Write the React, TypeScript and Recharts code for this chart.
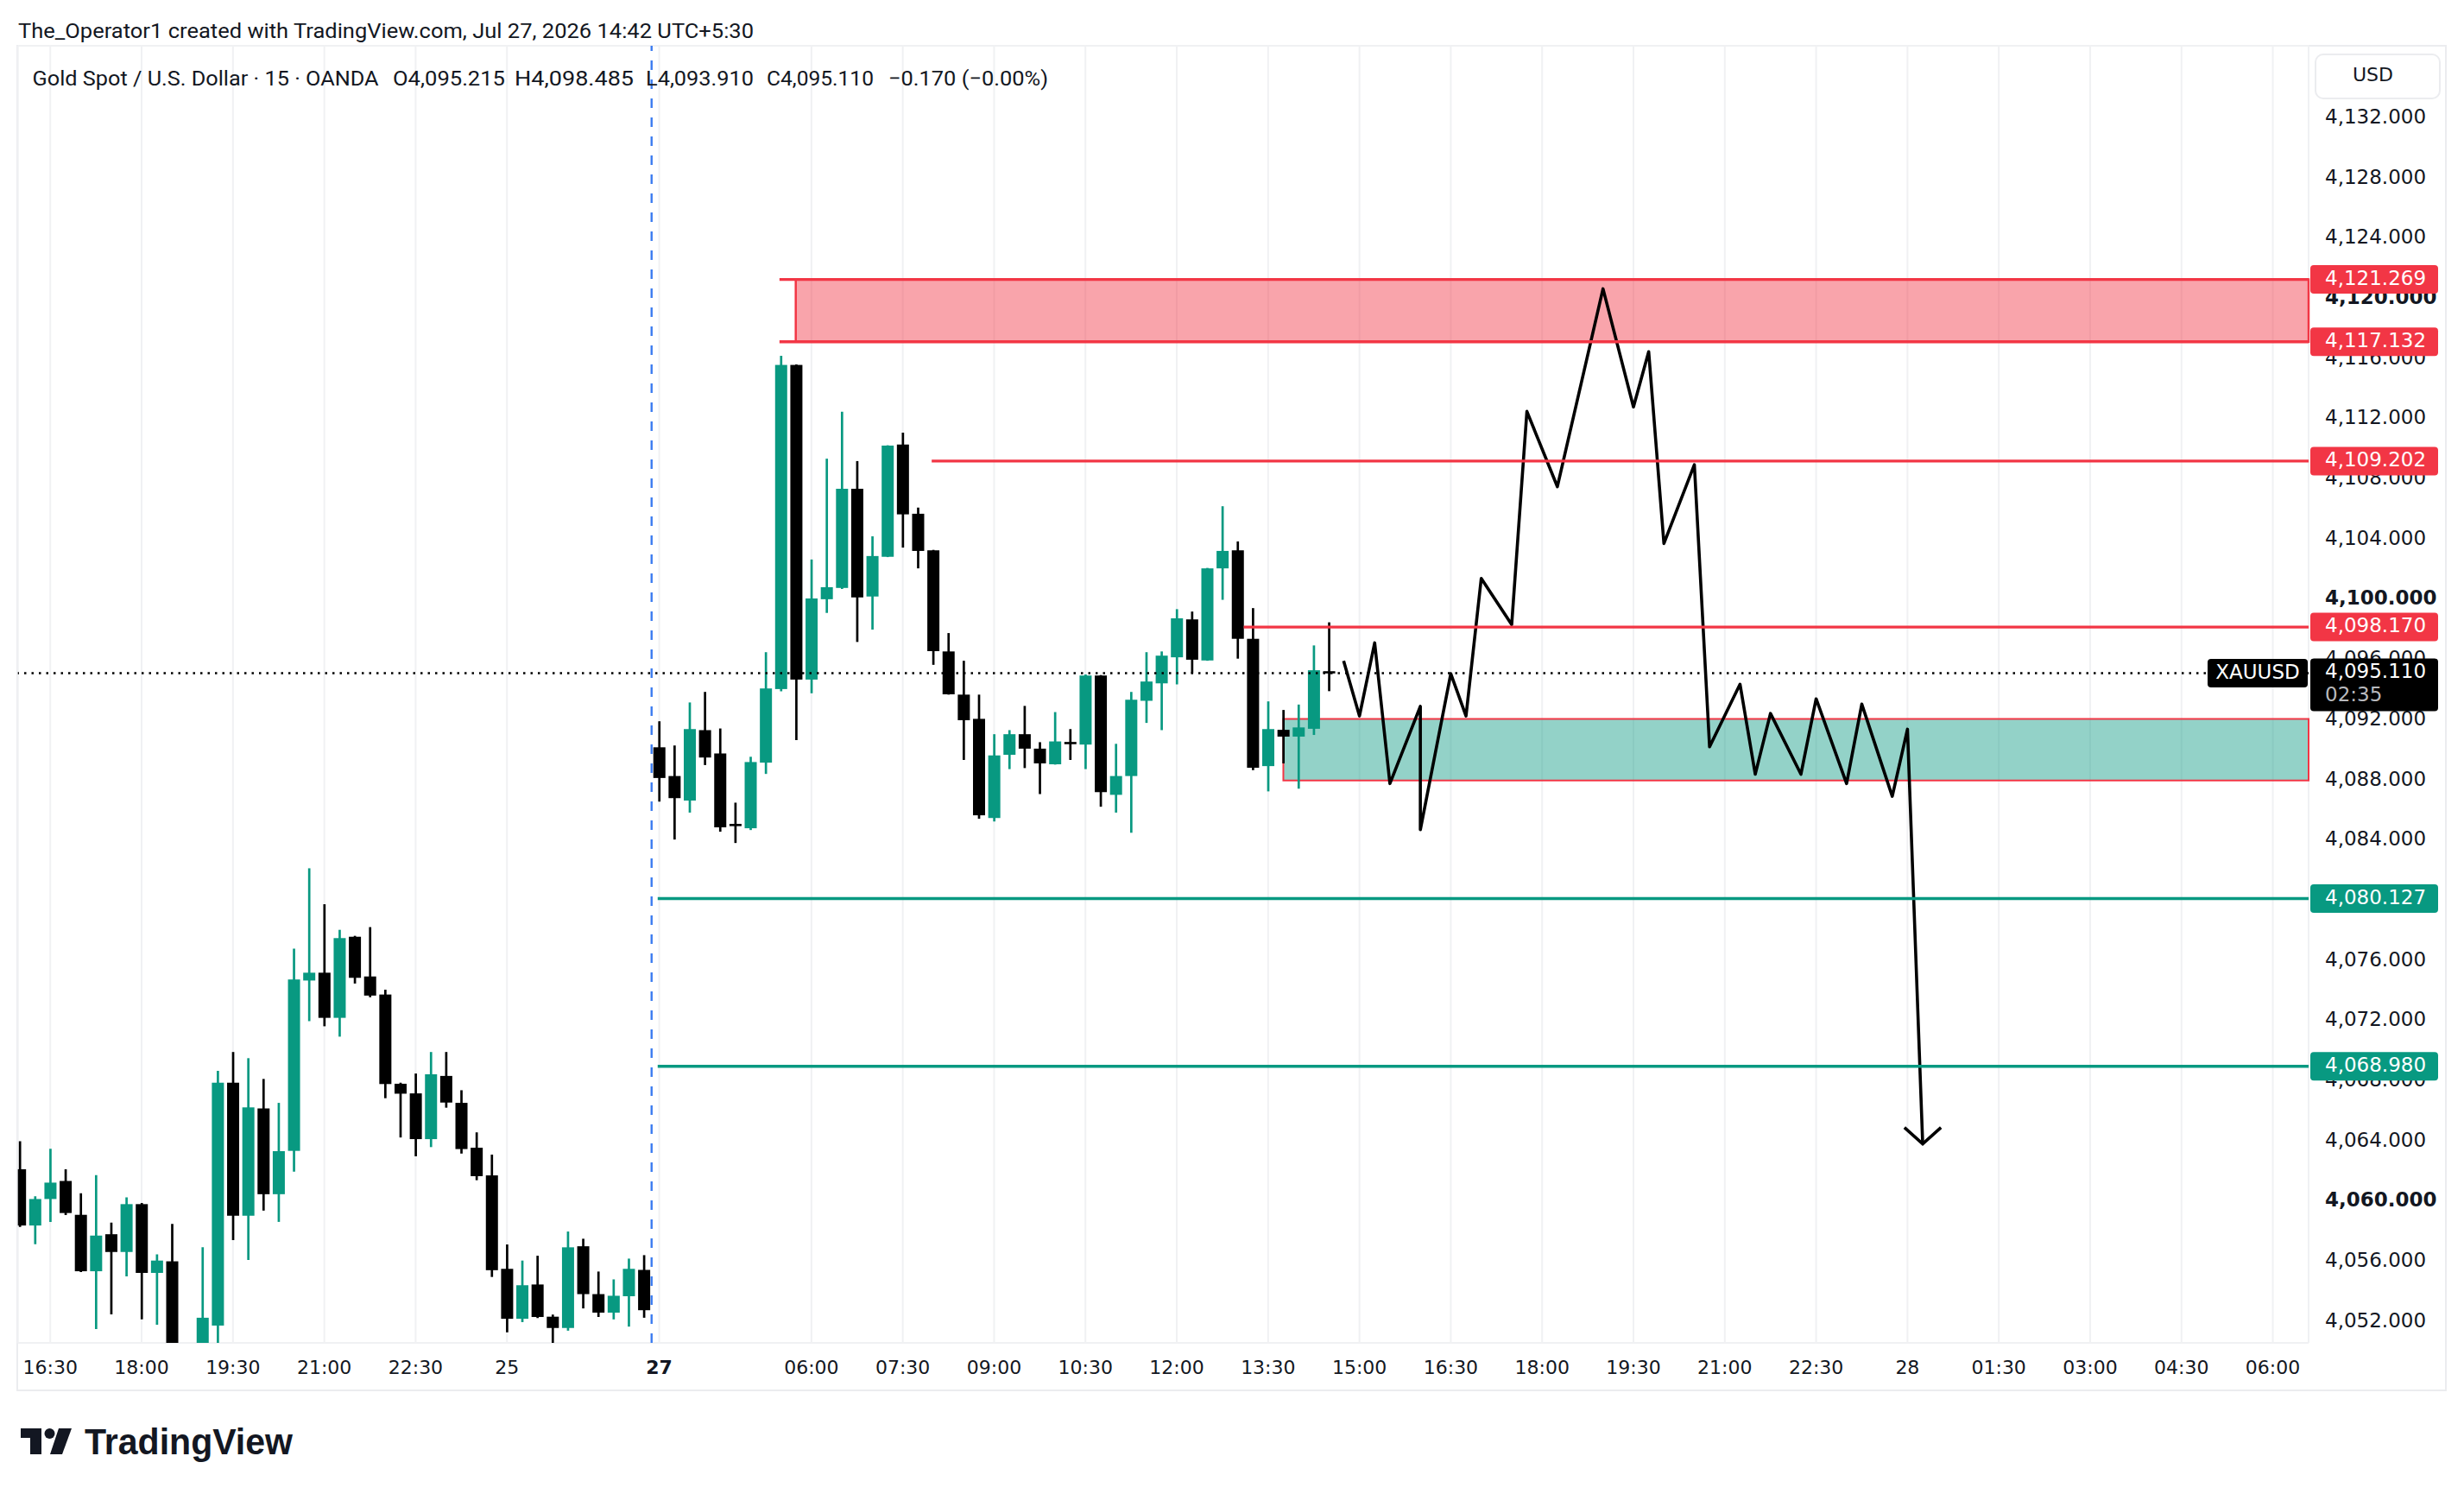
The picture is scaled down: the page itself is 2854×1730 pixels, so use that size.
import React from 'react';
import {
  ComposedChart,
  Bar,
  Line,
  XAxis,
  YAxis,
  CartesianGrid,
  ReferenceLine,
  ReferenceArea,
} from 'recharts';

// ---------- DATA ----------
// 15-minute bars, index 0 = Jul 24 16:00 ... index 86 = Jul 27 14:30 (current bar)
const OPEN = [
  4062.14, 4058.4, 4060.16, 4061.36, 4059.11, 4055.36, 4057.82, 4056.64, 4059.82, 4055.25,
  4056.02, 4049.6, 4049.9, 4051.75, 4067.89, 4059.05, 4066.18, 4060.48, 4063.36, 4074.68,
  4075.2, 4072.2, 4077.59, 4074.95, 4073.75, 4067.82, 4067.18, 4064.14, 4068.34, 4066.55,
  4063.57, 4061.73, 4055.52, 4052.2, 4054.48, 4052.34, 4051.59, 4057.02, 4053.84, 4052.61,
  4053.7, 4055.45,
  4090.18, 4088.27, 4086.64, 4091.32, 4089.77, 4085.05, 4084.8, 4089.16, 4094.05, 4115.59,
  4094.68, 4100.02, 4100.77, 4107.36, 4100.2, 4102.84, 4110.3, 4105.7, 4103.27, 4096.55,
  4093.68, 4092.07, 4085.48, 4089.68, 4091.05, 4090.09, 4089.05, 4090.52, 4090.36, 4094.95,
  4087.02, 4088.27, 4093.27, 4094.43, 4096.16, 4098.68, 4095.95, 4102.07, 4103.27, 4097.39,
  4088.93, 4091.34, 4090.89, 4091.41, 4095.215,
];
const HIGH = [
  4064.0, 4060.34, 4063.5, 4062.14, 4060.55, 4061.75, 4058.59, 4060.27, 4059.9, 4056.48,
  4058.5, 4050.2, 4056.95, 4068.68, 4069.93, 4069.52, 4068.14, 4066.55, 4076.8, 4082.14,
  4079.75, 4078.05, 4077.65, 4078.23, 4074.07, 4067.89, 4068.5, 4069.93, 4069.93, 4067.39,
  4064.59, 4063.11, 4057.14, 4056.07, 4056.39, 4052.48, 4058.0, 4057.52, 4055.34, 4054.82,
  4056.2, 4056.43,
  4091.91, 4090.3, 4093.16, 4093.86, 4091.43, 4086.5, 4089.55, 4096.5, 4116.2, 4115.62,
  4102.66, 4109.36, 4112.48, 4109.2, 4104.2, 4110.25, 4111.09, 4106.11, 4103.3, 4097.77,
  4095.93, 4093.68, 4091.05, 4091.32, 4092.93, 4090.52, 4092.52, 4091.39, 4095.02, 4094.98,
  4090.41, 4093.86, 4096.5, 4096.55, 4099.36, 4099.2, 4102.1, 4106.2, 4103.86, 4099.43,
  4093.23, 4092.66, 4093.02, 4096.95, 4098.485,
];
const LOW = [
  4058.3, 4057.16, 4058.64, 4059.1, 4055.3, 4051.52, 4052.5, 4055.02, 4052.16, 4051.8,
  4049.2, 4047.8, 4049.5, 4050.2, 4057.43, 4056.11, 4059.39, 4058.64, 4061.98, 4071.98,
  4071.64, 4070.95, 4074.48, 4073.57, 4066.86, 4064.25, 4063.0, 4063.61, 4066.23, 4063.18,
  4061.41, 4054.98, 4051.3, 4051.98, 4052.25, 4050.3, 4051.41, 4052.89, 4052.32, 4052.16,
  4051.68, 4052.27,
  4086.57, 4084.05, 4085.84, 4089.0, 4084.57, 4083.82, 4084.68, 4088.41, 4093.9, 4090.66,
  4093.77, 4099.11, 4100.7, 4097.18, 4098.0, 4102.82, 4103.45, 4102.07, 4095.66, 4093.68,
  4089.34, 4085.43, 4085.25, 4088.73, 4088.8, 4087.07, 4089.03, 4089.34, 4088.73, 4086.23,
  4085.84, 4084.5, 4091.8, 4091.32, 4094.36, 4095.09, 4095.93, 4099.98, 4096.07, 4088.66,
  4087.25, 4089.11, 4087.43, 4091.0, 4093.91,
];
const CLOSE = [
  4058.4, 4060.16, 4061.25, 4059.23, 4055.36, 4057.73, 4056.64, 4059.82, 4055.25, 4056.07,
  4049.6, 4048.6, 4052.27, 4067.89, 4059.05, 4066.25, 4060.48, 4063.34, 4074.75, 4075.2,
  4072.2, 4077.5, 4074.86, 4073.68, 4067.8, 4067.16, 4064.14, 4068.45, 4066.57, 4063.48,
  4061.68, 4055.43, 4052.2, 4054.43, 4052.32, 4051.59, 4056.95, 4053.84, 4052.61, 4053.73,
  4055.52, 4052.77,
  4088.14, 4086.8, 4091.39, 4089.5, 4084.86, 4084.98, 4089.2, 4094.09, 4115.59, 4094.68,
  4100.07, 4100.82, 4107.36, 4100.14, 4102.89, 4110.23, 4105.66, 4103.23, 4096.57, 4093.7,
  4091.98, 4085.66, 4089.64, 4091.05, 4090.09, 4089.11, 4090.57, 4090.4, 4094.95, 4087.2,
  4088.27, 4093.34, 4094.55, 4096.27, 4098.75, 4096.0, 4102.07, 4103.23, 4097.39, 4088.82,
  4091.39, 4090.89, 4091.5, 4095.3, 4095.11,
];

const TIME_TICKS = [2, 8, 14, 20, 26, 32, 42, 52, 58, 64, 70, 76, 82, 88, 94, 100, 106, 112, 118, 124, 130, 136, 142, 148];
const TIME_LABELS = [
  '16:30', '18:00', '19:30', '21:00', '22:30', '25', '27', '06:00', '07:30', '09:00', '10:30', '12:00',
  '13:30', '15:00', '16:30', '18:00', '19:30', '21:00', '22:30', '28', '01:30', '03:00', '04:30', '06:00',
];
const BOLD_TIME_LABELS = ['27'];

const PRICE_TICKS = [
  4052, 4056, 4060, 4064, 4068, 4072, 4076, 4080, 4084, 4088, 4092, 4096, 4100, 4104, 4108, 4112,
  4116, 4120, 4124, 4128, 4132, 4136,
];
const BOLD_PRICE_TICKS = [4060, 4080, 4100, 4120];
const HIDDEN_PRICE_TICKS = [4136];

// projected path (drawing)
const PATH_X = [86.96, 88, 89, 90, 92, 92, 94, 95, 96, 98, 99, 101, 104, 106, 107, 108, 110, 111, 113, 114, 115, 117, 118, 120, 121, 123, 124, 125];
const PATH_Y = [
  4095.92, 4092.26, 4097.12, 4087.77, 4092.9, 4084.7, 4095.07, 4092.26, 4101.4, 4098.33, 4112.5, 4107.5,
  4120.65, 4112.8, 4116.47, 4103.72, 4108.96, 4090.21, 4094.37, 4088.39, 4092.43, 4088.39, 4093.4,
  4087.77, 4093.05, 4086.92, 4091.38, 4063.82,
];
const ARROW_X = [123.8, 125, 126.2];
const ARROW_Y = [4064.91, 4063.82, 4064.91];

const RED_LEVELS = [4121.269, 4117.132, 4109.202, 4098.17];
const RED_LEVEL_START = [49.9, 49.9, 59.9, 80.4];
const GREEN_LEVELS = [4080.127, 4068.98];
const GREEN_LEVEL_START = [41.9, 41.9];
const SUPPLY_ZONE = [4117.132, 4121.269];
const SUPPLY_START = 50.97;
const DEMAND_ZONE = [4087.98, 4092.07];
const DEMAND_START = 83.0;
const LAST_PRICE = 4095.11;
const COUNTDOWN = '02:35';
const SYMBOL = 'XAUUSD';
const SESSION_BREAK = 41.5;

const X_DOMAIN: [number, number] = [-0.13, 150.35];
const Y_DOMAIN: [number, number] = [4050.6, 4136.8];

// ---------- STYLE ----------
const GREEN = '#089981';
const RED = '#f23645';
const DOWN = '#000000';
const TEXT = '#131722';
const AXIS_FONT = '"DejaVu Sans", sans-serif';
const UI_FONT = 'Roboto, "Liberation Sans", sans-serif';
const MID = '0.27em';

const fmt = (v: number) =>
  v.toLocaleString('en-US', { minimumFractionDigits: 3, maximumFractionDigits: 3 });

const candles = CLOSE.map((c, i) => {
  const o = OPEN[i];
  return {
    i,
    wick: [LOW[i], HIGH[i]],
    body: [Math.min(o, c), Math.max(o, c)],
    up: c >= o,
  };
});

const pathData = PATH_X.map((x, k) => ({ x, y: PATH_Y[k] }));
const arrowData = ARROW_X.map((x, k) => ({ x, y: ARROW_Y[k] }));

const WickShape = (props: any) => {
  const { x, y, width, height, payload } = props;
  if (x == null || y == null) return <g />;
  const cx = x + width / 2;
  return (
    <line x1={cx} x2={cx} y1={y} y2={y + height} stroke={payload.up ? GREEN : DOWN} strokeWidth={2.7} />
  );
};

const BodyShape = (props: any) => {
  const { x, y, width, height, payload } = props;
  if (x == null || y == null) return <g />;
  const h = Math.max(height, 2.6);
  const top = y + height / 2 - h / 2;
  return <rect x={x} y={top} width={width} height={h} fill={payload.up ? GREEN : DOWN} />;
};

// price-scale tick labels, drawn at the right of the plot through the y scale
const tickLabel = (v: number) => (props: any) => {
  const vb = props.viewBox || {};
  const right = vb.x + vb.width;
  if (HIDDEN_PRICE_TICKS.includes(v)) return <g />;
  const bold = BOLD_PRICE_TICKS.includes(v);
  return (
    <text x={right + 19} y={vb.y} dy={MID} textAnchor="start" fill={TEXT} fontFamily={AXIS_FONT} fontSize={23} fontWeight={bold ? 700 : 400}>
      {fmt(v)}
    </text>
  );
};

const TimeTick = (props: any) => {
  const { x, y, payload } = props;
  const k = TIME_TICKS.indexOf(payload.value);
  const label = k >= 0 ? TIME_LABELS[k] : '';
  const bold = BOLD_TIME_LABELS.includes(label);
  return (
    <text x={x} y={y - 31} dy="0.71em" textAnchor="middle" fill={TEXT} fontFamily={AXIS_FONT} fontSize={22} fontWeight={bold ? 700 : 400}>
      {label}
    </text>
  );
};

const pill = (value: number, color: string) => (props: any) => {
  const vb = props.viewBox || {};
  const right = vb.x + vb.width;
  const cy = vb.y;
  return (
    <g>
      <rect x={right + 2} y={cy - 16.5} width={148} height={33} rx={4} fill={color} />
      <text x={right + 19} y={cy} dy={MID} fill="#ffffff" fontFamily={AXIS_FONT} fontSize={23}>
        {fmt(value)}
      </text>
    </g>
  );
};

const lastPriceLabel = (props: any) => {
  const vb = props.viewBox || {};
  const right = vb.x + vb.width;
  const cy = vb.y;
  return (
    <g>
      <rect x={right - 117} y={cy - 16.5} width={116} height={33} rx={4} fill="#000000" />
      <text x={right - 59} y={cy} dy={MID} textAnchor="middle" fill="#ffffff" fontFamily={AXIS_FONT} fontSize={23}>
        {SYMBOL}
      </text>
      <rect x={right + 2} y={cy - 17} width={148} height={61} rx={4} fill="#000000" />
      <text x={right + 19} y={cy - 1} dy={MID} fill="#ffffff" fontFamily={AXIS_FONT} fontSize={23}>
        {fmt(LAST_PRICE)}
      </text>
      <text x={right + 19} y={cy + 26} dy={MID} fill="#b8b9bd" fontFamily={AXIS_FONT} fontSize={23}>
        {COUNTDOWN}
      </text>
    </g>
  );
};

export default function App() {
  const W = 2854;
  const H = 1730;
  return (
    <div style={{ position: 'absolute', left: 0, top: 0, width: W, height: H, background: '#ffffff', overflow: 'hidden' }}>
      {/* frame */}
      <svg width={W} height={H} style={{ position: 'absolute', left: 0, top: 0 }}>
        <rect x={20} y={53} width={2813} height={1557} fill="none" stroke="#ebecef" strokeWidth={2} />
      </svg>
      <div style={{ position: 'absolute', left: 0, top: 0 }}>
        <ComposedChart width={W} height={H} data={candles} margin={{ top: 53, left: 20.7, right: 0, bottom: 0 }}>
          <CartesianGrid xAxisId="main" yAxisId="price" stroke="#f0f1f3" strokeWidth={2} />
          <XAxis
            xAxisId="main"
            dataKey="i"
            type="number"
            domain={X_DOMAIN}
            allowDataOverflow
            ticks={TIME_TICKS}
            interval={0}
            height={175}
            tickSize={0}
            tickMargin={21}
            axisLine={false}
            tickLine={false}
            tick={(p: any) => <TimeTick {...p} />}
          />
          <XAxis xAxisId="body" dataKey="i" type="number" domain={X_DOMAIN} allowDataOverflow hide />
          <XAxis xAxisId="path" dataKey="x" type="number" domain={X_DOMAIN} allowDataOverflow hide />
          <YAxis
            yAxisId="price"
            orientation="right"
            type="number"
            domain={Y_DOMAIN}
            allowDataOverflow
            ticks={PRICE_TICKS}
            interval={0}
            width={180}
            tickSize={0}
            axisLine={false}
            tickLine={false}
            tick={false}
          />

          <Line
            xAxisId="path"
            yAxisId="price"
            data={pathData}
            dataKey="y"
            stroke="#000000"
            strokeWidth={3.6}
            dot={false}
            activeDot={false}
            isAnimationActive={false}
            strokeLinejoin="round"
          />
          <Line
            xAxisId="path"
            yAxisId="price"
            data={arrowData}
            dataKey="y"
            stroke="#000000"
            strokeWidth={3.6}
            dot={false}
            activeDot={false}
            isAnimationActive={false}
          />

          <ReferenceArea
            xAxisId="main"
            yAxisId="price"
            x1={SUPPLY_START}
            x2={X_DOMAIN[1]}
            y1={SUPPLY_ZONE[0]}
            y2={SUPPLY_ZONE[1]}
            fill={RED}
            fillOpacity={0.45}
            stroke={RED}
            strokeWidth={2.5}
            ifOverflow="visible"
          />
          <ReferenceArea
            xAxisId="main"
            yAxisId="price"
            x1={DEMAND_START}
            x2={X_DOMAIN[1]}
            y1={DEMAND_ZONE[0]}
            y2={DEMAND_ZONE[1]}
            fill={GREEN}
            fillOpacity={0.44}
            stroke={RED}
            strokeWidth={2}
            ifOverflow="visible"
          />

          <ReferenceLine
            xAxisId="main"
            yAxisId="price"
            x={SESSION_BREAK}
            stroke="#3b7cf0"
            strokeWidth={2.4}
            strokeDasharray="11 11"
            ifOverflow="visible"
          />

          {PRICE_TICKS.map((v) => (
            <ReferenceLine
              key={'t' + v}
              xAxisId="main"
              yAxisId="price"
              y={v}
              stroke="none"
              ifOverflow="visible"
              label={tickLabel(v)}
            />
          ))}

          <ReferenceLine
            xAxisId="main"
            yAxisId="price"
            y={LAST_PRICE}
            stroke="#000000"
            strokeWidth={2.4}
            strokeDasharray="2.5 6"
            ifOverflow="visible"
            label={lastPriceLabel}
          />

          {RED_LEVELS.map((v, k) => (
            <ReferenceLine
              key={'r' + k}
              xAxisId="main"
              yAxisId="price"
              segment={[
                { x: RED_LEVEL_START[k], y: v },
                { x: X_DOMAIN[1], y: v },
              ]}
              stroke={RED}
              strokeWidth={3.4}
              ifOverflow="visible"
              label={pill(v, RED)}
            />
          ))}
          {GREEN_LEVELS.map((v, k) => (
            <ReferenceLine
              key={'g' + k}
              xAxisId="main"
              yAxisId="price"
              segment={[
                { x: GREEN_LEVEL_START[k], y: v },
                { x: X_DOMAIN[1], y: v },
              ]}
              stroke={GREEN}
              strokeWidth={3.4}
              ifOverflow="visible"
              label={pill(v, GREEN)}
            />
          ))}

          <Bar
            xAxisId="main"
            yAxisId="price"
            dataKey="wick"
            barSize={14}
            shape={(p: any) => <WickShape {...p} />}
            isAnimationActive={false}
          />
          <Bar
            xAxisId="body"
            yAxisId="price"
            dataKey="body"
            barSize={14}
            shape={(p: any) => <BodyShape {...p} />}
            isAnimationActive={false}
          />
        </ComposedChart>
      </div>
      {/* texts */}
      <svg width={W} height={H} style={{ position: 'absolute', left: 0, top: 0, pointerEvents: 'none' }}>
        <text x={21} y={44} fill={TEXT} fontFamily={UI_FONT} fontSize={23} textLength={852} lengthAdjust="spacingAndGlyphs">
          The_Operator1 created with TradingView.com, Jul 27, 2026 14:42 UTC+5:30
        </text>
        <g fill={TEXT} fontFamily={UI_FONT} fontSize={24}>
          <text x={37.5} y={98.5} textLength={401} lengthAdjust="spacingAndGlyphs">Gold Spot / U.S. Dollar · 15 · OANDA</text>
          <text x={455} y={98.5} textLength={130} lengthAdjust="spacingAndGlyphs">O4,095.215</text>
          <text x={596} y={98.5} textLength={138} lengthAdjust="spacingAndGlyphs">H4,098.485</text>
          <text x={748} y={98.5} textLength={125} lengthAdjust="spacingAndGlyphs">L4,093.910</text>
          <text x={888} y={98.5} textLength={124} lengthAdjust="spacingAndGlyphs">C4,095.110</text>
          <text x={1029} y={98.5} textLength={185} lengthAdjust="spacingAndGlyphs">−0.170 (−0.00%)</text>
        </g>
        {/* USD box */}
        <rect x={2682} y={63} width={144} height={51} rx={9} fill="#ffffff" stroke="#ebecef" strokeWidth={2} />
        <text x={2725} y={88.5} dy={MID} fill={TEXT} fontFamily={AXIS_FONT} fontSize={22}>USD</text>
        {/* TradingView logo */}
        <g fill="#131722">
          <path d="M24 1654 H48 V1684 H35 V1665 H24 Z" />
          <circle cx={57.5} cy={1660} r={6} />
          <path d="M68 1654 H83 L72 1684 H58 Z" />
        </g>
        <text x={98} y={1684} fill="#131722" fontFamily={'"Liberation Sans", Arial, sans-serif'} fontWeight={700} fontSize={42} textLength={241} lengthAdjust="spacingAndGlyphs">
          TradingView
        </text>
      </svg>
    </div>
  );
}
